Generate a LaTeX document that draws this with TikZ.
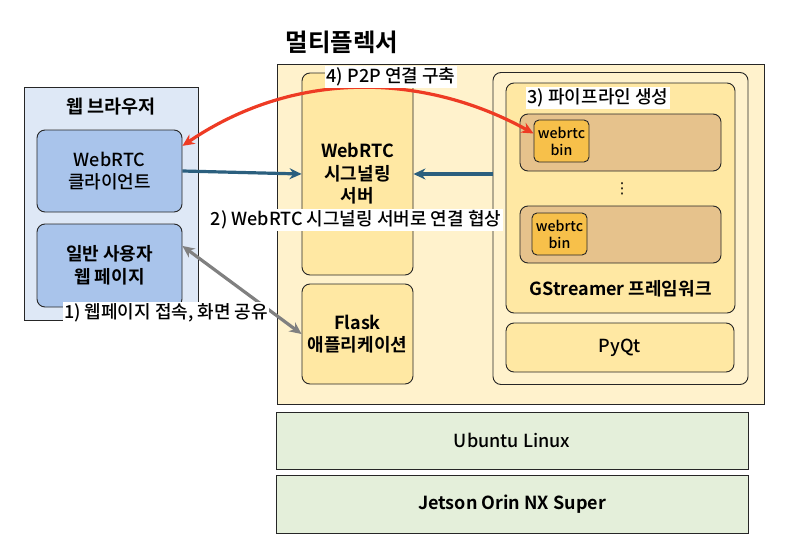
\documentclass[tikz,border=0pt]{standalone}
\usepackage{fontspec}
\setmainfont{Noto Sans CJK KR}[UprightFont={* Medium}, BoldFont={* Bold}]
\newfontfamily\symfont{DejaVu Sans}
\usetikzlibrary{positioning, calc, arrows.meta}

\definecolor{creamfill}{HTML}{FFF2CC}
\definecolor{yellowfill}{HTML}{FFE8A3}
\definecolor{tanfill}{HTML}{E6C28C}
\definecolor{binfill}{HTML}{F7C04A}
\definecolor{paleblue}{HTML}{DEE8F6}
\definecolor{midblue}{HTML}{A9C4EB}
\definecolor{palegreen}{HTML}{E4EFDA}
\definecolor{linkblue}{HTML}{2B5F7E}
\definecolor{linkred}{HTML}{EE3B24}
\definecolor{linkgray}{HTML}{808080}

\begin{document}
\begin{tikzpicture}[x=1pt, y=-1pt]
        \tikzstyle{box}=[draw=black!85, line width=0.9pt, align=center, inner sep=0pt, font=\fontsize{18}{22.5}\selectfont];
        \tikzstyle{card}=[box, rounded corners=8pt];
        \tikzstyle{heavy}=[font=\bfseries\fontsize{18}{22.5}\selectfont];
        \tikzstyle{tag}=[fill=white, inner sep=1.5pt, font=\fontsize{18}{20}\selectfont];
        \tikzstyle{link}=[line width=3.2pt, {Stealth[length=12pt, width=11pt]}-{Stealth[length=12pt, width=11pt]}];

        \useasboundingbox (0, 0) rectangle (800, 551);

        \node[font=\bfseries\fontsize{24.5}{28}\selectfont] (title) at (342, 42) {멀티플렉서};

        % multiplexer and its parts
        \node[box, fill=creamfill, minimum width=487, minimum height=340] (mux) at (520.5, 234) {};
        \node[card, heavy, fill=yellowfill, minimum width=111, minimum height=202] (sig) at (357.5, 174) {WebRTC\\시그널링\\서버};
        \node[card, heavy, fill=yellowfill, minimum width=111, minimum height=100] (flask) at (357.5, 334) {Flask\\애플리케이션};

        \node[card, fill=creamfill, minimum width=255, minimum height=312] (host) at (620.5, 228.5) {};
        \node[card, fill=yellowfill, minimum width=229, minimum height=230] (gst) at (620.5, 198) {};
        \node[heavy] (gstname) at (620.5, 289) {GStreamer 프레임워크};

        \node[card, fill=tanfill, minimum width=201, minimum height=57] (pipe1) at (620.5, 142.5) {};
        \node[card, fill=tanfill, minimum width=201, minimum height=57] (pipe2) at (620.5, 234.5) {};
        \node[box, rounded corners=5pt, fill=binfill, minimum width=55, minimum height=42, font=\fontsize{14.2}{17}\selectfont] (bin1) at (561.5, 141) {webrtc\\bin};
        \node[box, rounded corners=5pt, fill=binfill, minimum width=55, minimum height=42, font=\fontsize{14.2}{17}\selectfont] (bin2) at (559.5, 234) {webrtc\\bin};
        \node[font=\symfont\fontsize{15}{18}\selectfont] (dots) at (622, 189) {⋮};

        \node[card, fill=yellowfill, minimum width=228, minimum height=49] (pyqt) at (620, 347.5) {PyQt};

        % lower layers
        \node[box, fill=palegreen, minimum width=472, minimum height=57] (ubuntu) at (512, 440.5) {Ubuntu Linux};
        \node[box, heavy, fill=palegreen, minimum width=472, minimum height=58] (jetson) at (512, 504) {Jetson Orin NX Super};

        % web browser
        \node[box, fill=paleblue, minimum width=174, minimum height=233] (browser) at (111, 203.5) {};
        \node[font=\bfseries\fontsize{18.5}{20}\selectfont] (browsername) at (111, 107) {웹 브라우저};
        \node[card, fill=midblue, minimum width=145, minimum height=82] (client) at (109.5, 171) {WebRTC\\클라이언트};
        \node[card, heavy, fill=midblue, minimum width=145, minimum height=83] (page) at (109.5, 265.5) {일반 사용자\\웹 페이지};

        \coordinate (gstin) at (host.west |- sig.east);

        \draw (client.east) edge[line width=3.2pt, linkblue, -{Stealth[length=12pt, width=11pt]}] (sig.west);
        \draw (gstin) edge[line width=3.2pt, linkblue, -{Stealth[length=12pt, width=11pt]}] (sig.east);
        \draw (page.15) edge[link, linkgray] (flask.west);
        \draw[link, linkred] (client.19) .. controls (300, 66) and (430, 76) .. (bin1.165);

        \node[tag] (step1) at (166, 313) {1) 웹페이지 접속, 화면 공유};
        \node[tag] (step2) at (356, 220) {2) WebRTC 시그널링 서버로 연결 협상};
        \node[tag] (step3) at (598, 98) {3) 파이프라인 생성};
        \node[tag] (step4) at (391, 77) {4) P2P 연결 구축};

    \end{tikzpicture}
\end{document}
